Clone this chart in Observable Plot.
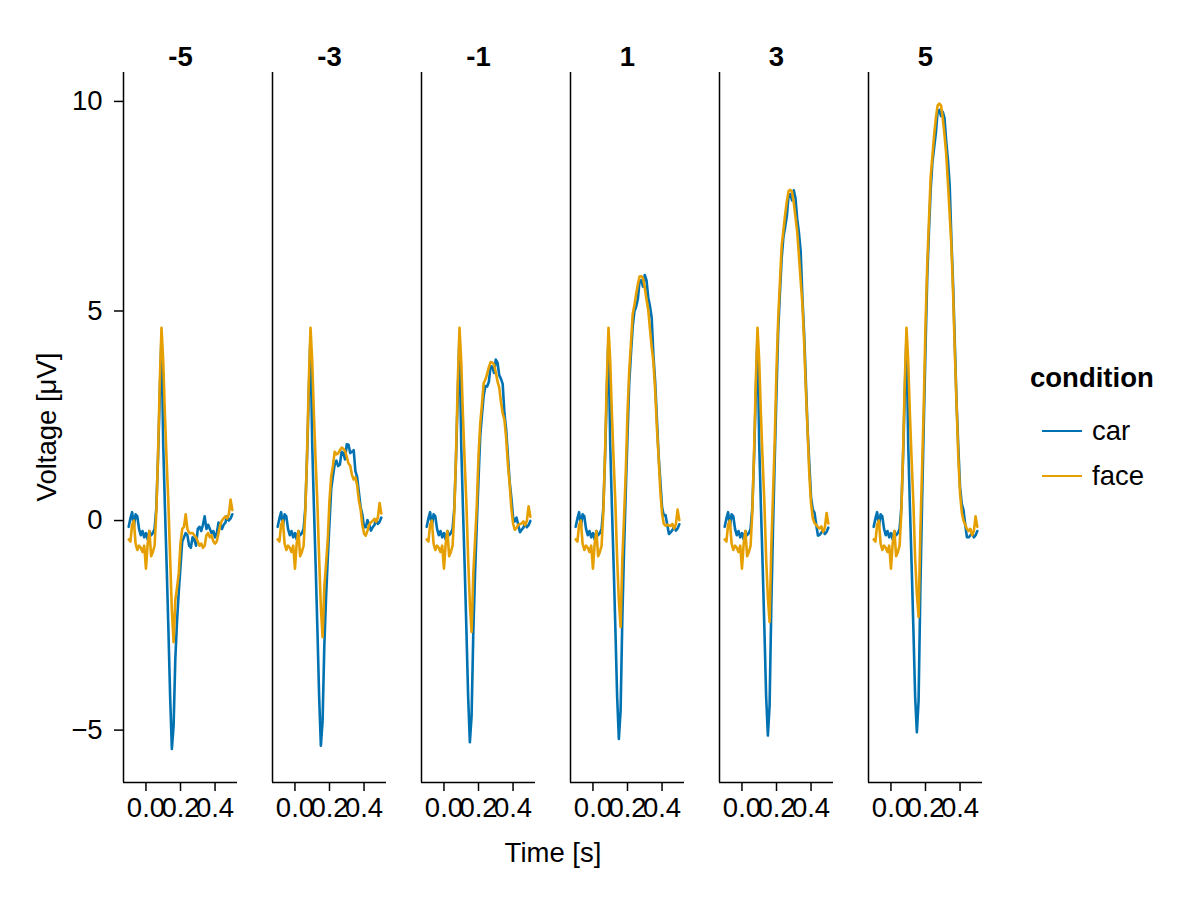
<!DOCTYPE html>
<html><head><meta charset="utf-8">
<script src="https://cdn.jsdelivr.net/npm/d3@7"></script>
<script src="https://cdn.jsdelivr.net/npm/@observablehq/plot@0.6"></script>
<style>
body{margin:0;background:#fff;}
#wrap{position:relative;width:1200px;height:900px;font-family:"Liberation Sans",Arial,sans-serif;color:#000;overflow:hidden;}
#wrap svg{position:absolute;left:0;top:0;}
.lbl{position:absolute;font-size:27.5px;white-space:nowrap;line-height:1;}
.sw{position:absolute;height:2.6px;width:40px;}
</style></head><body><div id="wrap"></div>
<script>
const times = [-0.1,-0.09,-0.08,-0.07,-0.06,-0.05,-0.04,-0.03,-0.02,-0.01,0,0.01,0.02,0.03,0.04,0.05,0.06,0.07,0.08,0.09,0.1,0.11,0.12,0.13,0.14,0.15,0.16,0.17,0.18,0.19,0.2,0.21,0.22,0.23,0.24,0.25,0.26,0.27,0.28,0.29,0.3,0.31,0.32,0.33,0.34,0.35,0.36,0.37,0.38,0.39,0.4,0.41,0.42,0.43,0.44,0.45,0.46,0.47,0.48,0.49,0.5];
const levels = [-5, -3, -1, 1, 3, 5];
const levelLabels = ["-5", "-3", "-1", "1", "3", "5"];
const conditions = ["car", "face"];
const colors = ["#0072B2", "#E69F00"];
const yTicks = [-5, 0, 5, 10];
const yTickLabels = ["\u22125", "0", "5", "10"];
const xTicks = [0, 0.2, 0.4];
const xTickLabels = ["0.0", "0.2", "0.4"];

const carM5 = [-0.15,0.05,0.2,-0.15,0.15,0.1,-0.2,-0.35,-0.25,-0.4,-0.3,-0.45,-0.25,-0.35,-0.3,-0.2,0.3,1.5,3.0,4.4,1.8,0.3,-1.1,-2.6,-4.2,
 -5.45,-4.9,-3.3,-2.4,-1.7,-1.1,-0.5,-0.4,-0.3,-0.35,-0.6,-0.65,-0.4,-0.45,-0.6,-0.2,-0.15,-0.25,-0.1,0.1,-0.2,-0.1,-0.2,-0.3,-0.25,-0.4,-0.3,-0.05,-0.1,-0.2,-0.1,-0.05,0.1,0.0,0.05,0.15];
const faceM5 = [-0.45,-0.5,-0.1,0.0,-0.55,-0.7,-0.6,-0.65,-0.75,-0.6,-1.15,-0.55,-0.25,-0.85,-0.75,-0.6,0.2,1.6,3.3,4.6,3.8,2.5,1.4,0.4,-0.9,
 -2.15,-2.9,-1.9,-1.6,-1.25,-0.55,-0.2,-0.15,0.15,-0.2,-0.3,-0.3,-0.3,-0.35,-0.4,-0.5,-0.6,-0.55,-0.65,-0.6,-0.35,-0.3,-0.4,-0.35,-0.5,-0.55,-0.5,-0.3,-0.1,0.0,0.05,0.1,0.05,0.15,0.5,0.25];
const carM3 = [-0.15,0.05,0.2,-0.15,0.15,0.1,-0.2,-0.35,-0.25,-0.4,-0.3,-0.45,-0.25,-0.35,-0.3,-0.2,0.3,1.5,3.0,4.4,1.8,0.3,-1.1,-2.6,-4.2,
 -5.37,-4.78,-2.98,-1.84,-0.9,-0.06,0.76,1.06,1.34,1.43,1.3,1.33,1.64,1.61,1.46,
 1.82,1.81,1.61,1.64,1.68,1.18,1.04,0.68,0.32,0.15,-0.16,-0.16,0.01,-0.1,
 -0.24,-0.16,-0.11,0.02,-0.08,-0.03,0.07];
const faceM3 = [-0.45,-0.5,-0.1,0.0,-0.55,-0.7,-0.6,-0.65,-0.75,-0.6,-1.15,-0.55,-0.25,-0.85,-0.75,-0.6,0.2,1.6,3.3,4.6,3.8,2.5,1.4,0.4,-0.9,
 -2.07,-2.78,-1.58,-1.04,-0.45,0.49,1.06,1.31,1.64,1.58,1.6,1.68,1.74,1.71,1.66,
 1.52,1.36,1.31,1.09,0.98,1.03,0.84,0.48,0.27,-0.1,-0.31,-0.36,-0.24,-0.1,
 -0.04,-0.01,0.04,-0.03,0.07,0.42,0.17];
const carM1 = [-0.15,0.05,0.2,-0.15,0.15,0.1,-0.2,-0.35,-0.25,-0.4,-0.3,-0.45,-0.25,-0.35,-0.3,-0.2,0.3,1.5,3.0,4.4,1.8,0.3,-1.1,-2.6,-4.2,
 -5.29,-4.66,-2.66,-1.28,-0.1,0.98,2.02,2.52,2.98,3.21,3.2,3.31,3.68,3.67,3.52,
 3.84,3.77,3.47,3.38,3.26,2.56,2.18,1.56,0.94,0.55,0.08,-0.02,0.07,-0.1,
 -0.28,-0.22,-0.17,-0.06,-0.16,-0.11,-0.01];
const faceM1 = [-0.45,-0.5,-0.1,0.0,-0.55,-0.7,-0.6,-0.65,-0.75,-0.6,-1.15,-0.55,-0.25,-0.85,-0.75,-0.6,0.2,1.6,3.3,4.6,3.8,2.5,1.4,0.4,-0.9,
 -1.99,-2.66,-1.26,-0.48,0.35,1.53,2.32,2.77,3.28,3.36,3.5,3.66,3.78,3.77,3.72,
 3.54,3.32,3.17,2.83,2.56,2.41,1.98,1.36,0.89,0.3,-0.07,-0.22,-0.18,-0.1,
 -0.08,-0.07,-0.02,-0.11,-0.01,0.34,0.09];
const carP1 = [-0.15,0.05,0.2,-0.15,0.15,0.1,-0.2,-0.35,-0.25,-0.4,-0.3,-0.45,-0.25,-0.35,-0.3,-0.2,0.3,1.5,3.0,4.4,1.8,0.3,-1.1,-2.6,-4.2,
 -5.21,-4.54,-2.34,-0.72,0.7,2.02,3.28,3.98,4.62,4.99,5.1,5.29,5.72,5.73,5.58,
 5.86,5.73,5.33,5.12,4.84,3.94,3.32,2.44,1.56,0.95,0.32,0.12,0.13,-0.1,
 -0.32,-0.28,-0.23,-0.14,-0.24,-0.19,-0.09];
const faceP1 = [-0.45,-0.5,-0.1,0.0,-0.55,-0.7,-0.6,-0.65,-0.75,-0.6,-1.15,-0.55,-0.25,-0.85,-0.75,-0.6,0.2,1.6,3.3,4.6,3.8,2.5,1.4,0.4,-0.9,
 -1.91,-2.54,-0.94,0.08,1.15,2.57,3.58,4.23,4.92,5.14,5.4,5.64,5.82,5.83,5.78,
 5.56,5.28,5.03,4.57,4.14,3.79,3.12,2.24,1.51,0.7,0.17,-0.08,-0.12,-0.1,
 -0.12,-0.13,-0.08,-0.19,-0.09,0.26,0.01];
const carP3 = [-0.15,0.05,0.2,-0.15,0.15,0.1,-0.2,-0.35,-0.25,-0.4,-0.3,-0.45,-0.25,-0.35,-0.3,-0.2,0.3,1.5,3.0,4.4,1.8,0.3,-1.1,-2.6,-4.2,
 -5.13,-4.42,-2.02,-0.16,1.5,3.06,4.54,5.44,6.26,6.77,7.0,7.27,7.76,7.79,7.64,
 7.88,7.69,7.19,6.86,6.42,5.32,4.46,3.32,2.18,1.35,0.56,0.26,0.19,-0.1,
 -0.36,-0.34,-0.29,-0.22,-0.32,-0.27,-0.17];
const faceP3 = [-0.45,-0.5,-0.1,0.0,-0.55,-0.7,-0.6,-0.65,-0.75,-0.6,-1.15,-0.55,-0.25,-0.85,-0.75,-0.6,0.2,1.6,3.3,4.6,3.8,2.5,1.4,0.4,-0.9,
 -1.83,-2.42,-0.62,0.64,1.95,3.61,4.84,5.69,6.56,6.92,7.3,7.62,7.86,7.89,7.84,
 7.58,7.24,6.89,6.31,5.72,5.17,4.26,3.12,2.13,1.1,0.41,0.06,-0.06,-0.1,
 -0.16,-0.19,-0.14,-0.27,-0.17,0.18,-0.07];
const carP5 = [-0.15,0.05,0.2,-0.15,0.15,0.1,-0.2,-0.35,-0.25,-0.4,-0.3,-0.45,-0.25,-0.35,-0.3,-0.2,0.3,1.5,3.0,4.4,1.8,0.3,-1.1,-2.6,-4.2,
 -5.05,-4.3,-1.7,0.4,2.3,4.1,5.8,6.9,7.9,8.55,8.9,9.25,9.75,9.8,9.65,
 9.75,9.6,9.05,8.6,8.0,6.7,5.6,4.2,2.8,1.75,0.8,0.4,0.25,-0.1,
 -0.4,-0.4,-0.35,-0.3,-0.4,-0.35,-0.25];
const faceP5 = [-0.45,-0.5,-0.1,0.0,-0.55,-0.7,-0.6,-0.65,-0.75,-0.6,-1.15,-0.55,-0.25,-0.85,-0.75,-0.6,0.2,1.6,3.3,4.6,3.8,2.5,1.4,0.4,-0.9,
 -1.75,-2.3,-0.3,1.2,2.75,4.65,6.1,7.15,8.2,8.7,9.2,9.6,9.9,9.95,9.9,
 9.6,9.2,8.75,8.05,7.3,6.55,5.4,4.0,2.75,1.5,0.65,0.2,0.0,-0.1,
 -0.2,-0.25,-0.2,-0.35,-0.25,0.1,-0.15];

const series = [
  [-5, "car", carM5], [-5, "face", faceM5],
  [-3, "car", carM3], [-3, "face", faceM3],
  [-1, "car", carM1], [-1, "face", faceM1],
  [1, "car", carP1], [1, "face", faceP1],
  [3, "car", carP3], [3, "face", faceP3],
  [5, "car", carP5], [5, "face", faceP5]
];
const rows = [];
for (const c of conditions) {
  for (const [level, cond, vals] of series) {
    if (cond !== c) continue;
    times.forEach((t, i) => rows.push({level, condition: cond, t, v: vals[i]}));
  }
}

const xDom = [-0.13, 0.53];
const yDom = [-6.25, 10.69];
const font = '"Liberation Sans", Arial, sans-serif';
const fs = 27.5;

const chart = Plot.plot({
  width: 1200, height: 900,
  marginLeft: 123, marginRight: 218, marginTop: 72, marginBottom: 118,
  style: {fontFamily: font, fontSize: fs + "px", color: "#000", background: "transparent", overflow: "visible"},
  fx: {domain: levels, paddingInner: 0.235, paddingOuter: 0, axis: null},
  x: {domain: xDom},
  y: {domain: yDom},
  color: {domain: conditions, range: colors},
  marks: [
    Plot.ruleX([xDom[0]], {stroke: "#000", strokeWidth: 1.5}),
    Plot.ruleY([yDom[0]], {stroke: "#000", strokeWidth: 1.5}),
    Plot.axisY({ticks: yTicks, tickFormat: d => yTickLabels[yTicks.indexOf(d)], tickSize: 9, tickPadding: 12, fontSize: fs, label: null, stroke: "#000", strokeWidth: 1.5}),
    Plot.axisX({ticks: xTicks, tickFormat: d => xTickLabels[xTicks.indexOf(d)], tickSize: 9, tickPadding: 6, fontSize: fs, label: null, stroke: "#000", strokeWidth: 1.5}),
    Plot.line(rows, {fx: "level", x: "t", y: "v", stroke: "condition", z: "condition", strokeWidth: 2.6}),
    Plot.text(levels, {fx: d => d, text: d => levelLabels[levels.indexOf(d)], frameAnchor: "top", dy: -7, lineAnchor: "bottom", fontWeight: "bold", fontSize: fs})
  ]
});

const wrap = document.getElementById("wrap");
wrap.appendChild(chart);

function addLabel(text, css, cls) {
  const d = document.createElement("div");
  d.className = cls || "lbl";
  d.textContent = text;
  Object.assign(d.style, css);
  wrap.appendChild(d);
  return d;
}
addLabel("Voltage [\u03bcV]", {left: "47px", top: "427px", transform: "translate(-50%,-50%) rotate(-90deg)"});
addLabel("Time [s]", {left: "553px", top: "853px", transform: "translate(-50%,-50%)"});
addLabel("condition", {left: "1030px", top: "378px", transform: "translateY(-50%)", fontWeight: "bold"});
const legendY = [431, 476];
conditions.forEach((c, i) => {
  const s = document.createElement("div");
  s.className = "sw";
  Object.assign(s.style, {left: "1042px", top: (legendY[i] - 1.3) + "px", background: colors[i]});
  wrap.appendChild(s);
  addLabel(c, {left: "1092px", top: legendY[i] + "px", transform: "translateY(-50%)"});
});
</script></body></html>
